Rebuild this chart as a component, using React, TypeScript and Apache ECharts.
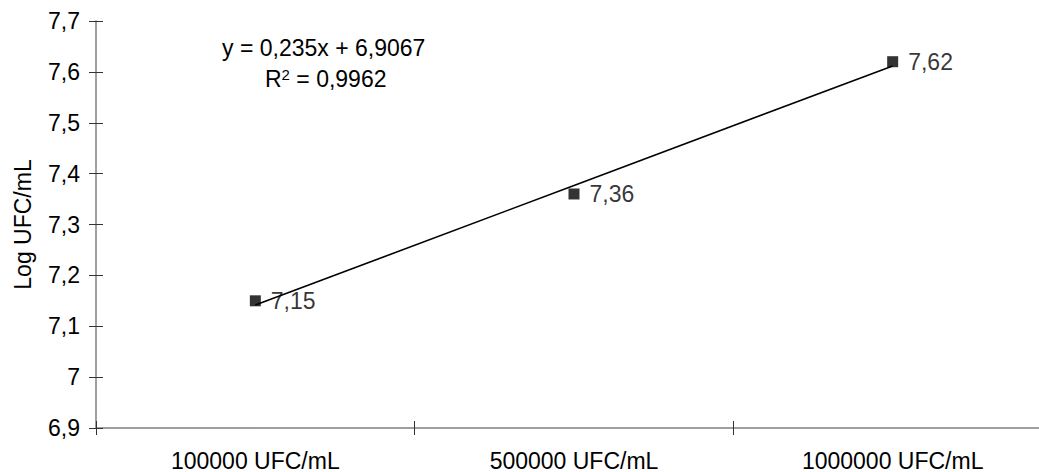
import React, { useEffect, useRef } from "react";
import * as echarts from "echarts";

const categories = ["100000 UFC/mL", "500000 UFC/mL", "1000000 UFC/mL"];
const logValues = [7.15, 7.36, 7.62];
// Linear trendline y = 0,235x + 6,9067 evaluated at x = 1, 2, 3
const trendValues = [7.1417, 7.3767, 7.6117];
const yMin = 6.9;
const yMax = 7.7;
const yStep = 0.1;
const equationText = "y = 0,235x + 6,9067";
const r2Value = "0,9962";
const yAxisName = "Log UFC/mL";

const FONT = "Liberation Sans, Arial, sans-serif";
const FS = 23;

const fmt = (v: number) => {
  const r = Math.round(v * 100) / 100;
  return String(r).replace(".", ",");
};

export default function App() {
  const ref = useRef<HTMLDivElement>(null);
  useEffect(() => {
    if (!ref.current) return;
    const chart = echarts.init(ref.current, null, { renderer: "svg" });
    const axisColor = "#7f7f7f";
    chart.setOption({
      animation: false,
      backgroundColor: "#ffffff",
      textStyle: { fontFamily: FONT },
      grid: { left: 96, top: 21, bottom: 43, right: 0 },
      xAxis: [
        {
          type: "category",
          data: categories,
          boundaryGap: true,
          axisLine: { show: true, lineStyle: { color: axisColor, width: 1.5 } },
          axisTick: { show: true, length: 7, lineStyle: { color: "#333" } },
          axisLabel: { color: "#000", fontSize: FS, fontFamily: FONT, margin: 21 },
          splitLine: { show: false },
        },
        {
          type: "category",
          data: categories,
          position: "bottom",
          boundaryGap: true,
          axisLine: { show: false },
          axisTick: { show: true, inside: true, length: 7, lineStyle: { color: "#333" } },
          axisLabel: { show: false },
          splitLine: { show: false },
        },
      ],
      yAxis: [
        {
          type: "value",
          min: yMin,
          max: yMax,
          interval: yStep,
          name: yAxisName,
          nameLocation: "middle",
          nameGap: 62,
          nameTextStyle: { color: "#000", fontSize: FS, fontFamily: FONT },
          axisLine: { show: true, lineStyle: { color: axisColor, width: 1.5 } },
          axisTick: { show: true, length: 7, lineStyle: { color: "#333" } },
          axisLabel: {
            color: "#000",
            fontSize: FS,
            fontFamily: FONT,
            margin: 16,
            formatter: (v: number) => fmt(v),
          },
          splitLine: { show: false },
        },
        {
          type: "value",
          min: yMin,
          max: yMax,
          interval: yStep,
          position: "left",
          axisLine: { show: false },
          axisTick: { show: true, inside: true, length: 7, lineStyle: { color: "#333" } },
          axisLabel: { show: false },
          splitLine: { show: false },
        },
      ],
      series: [
        {
          type: "line",
          data: trendValues,
          symbol: "none",
          lineStyle: { color: "#000", width: 1.6 },
          z: 2,
          silent: true,
        },
        {
          type: "scatter",
          data: logValues,
          symbol: "rect",
          symbolSize: 11,
          itemStyle: { color: "#000" },
          z: 3,
          label: {
            show: true,
            position: "right",
            distance: 10,
            color: "#000",
            fontSize: FS,
            fontFamily: FONT,
            formatter: (p: any) => fmt(p.value),
          },
        },
      ],
      graphic: [
        {
          type: "text",
          x: 222,
          y: 48,
          style: {
            text: equationText,
            fill: "#000",
            fontSize: FS,
            fontFamily: FONT,
            align: "left",
            verticalAlign: "middle",
          },
        },
        {
          type: "text",
          x: 265,
          y: 79,
          style: {
            text: "R{sup|2} = " + r2Value,
            fill: "#000",
            fontSize: FS,
            fontFamily: FONT,
            align: "left",
            verticalAlign: "middle",
            rich: {
              sup: { fontSize: 15, fontFamily: FONT, fill: "#000", padding: [0, 0, 10, 0] },
            },
          },
        },
      ],
    });
    return () => chart.dispose();
  }, []);
  return (
    <div
      style={{ position: "absolute", left: 0, top: 0, width: 1039, height: 472, overflow: "hidden" }}
    >
      <div ref={ref} style={{ width: 1052, height: 472 }} />
    </div>
  );
}
